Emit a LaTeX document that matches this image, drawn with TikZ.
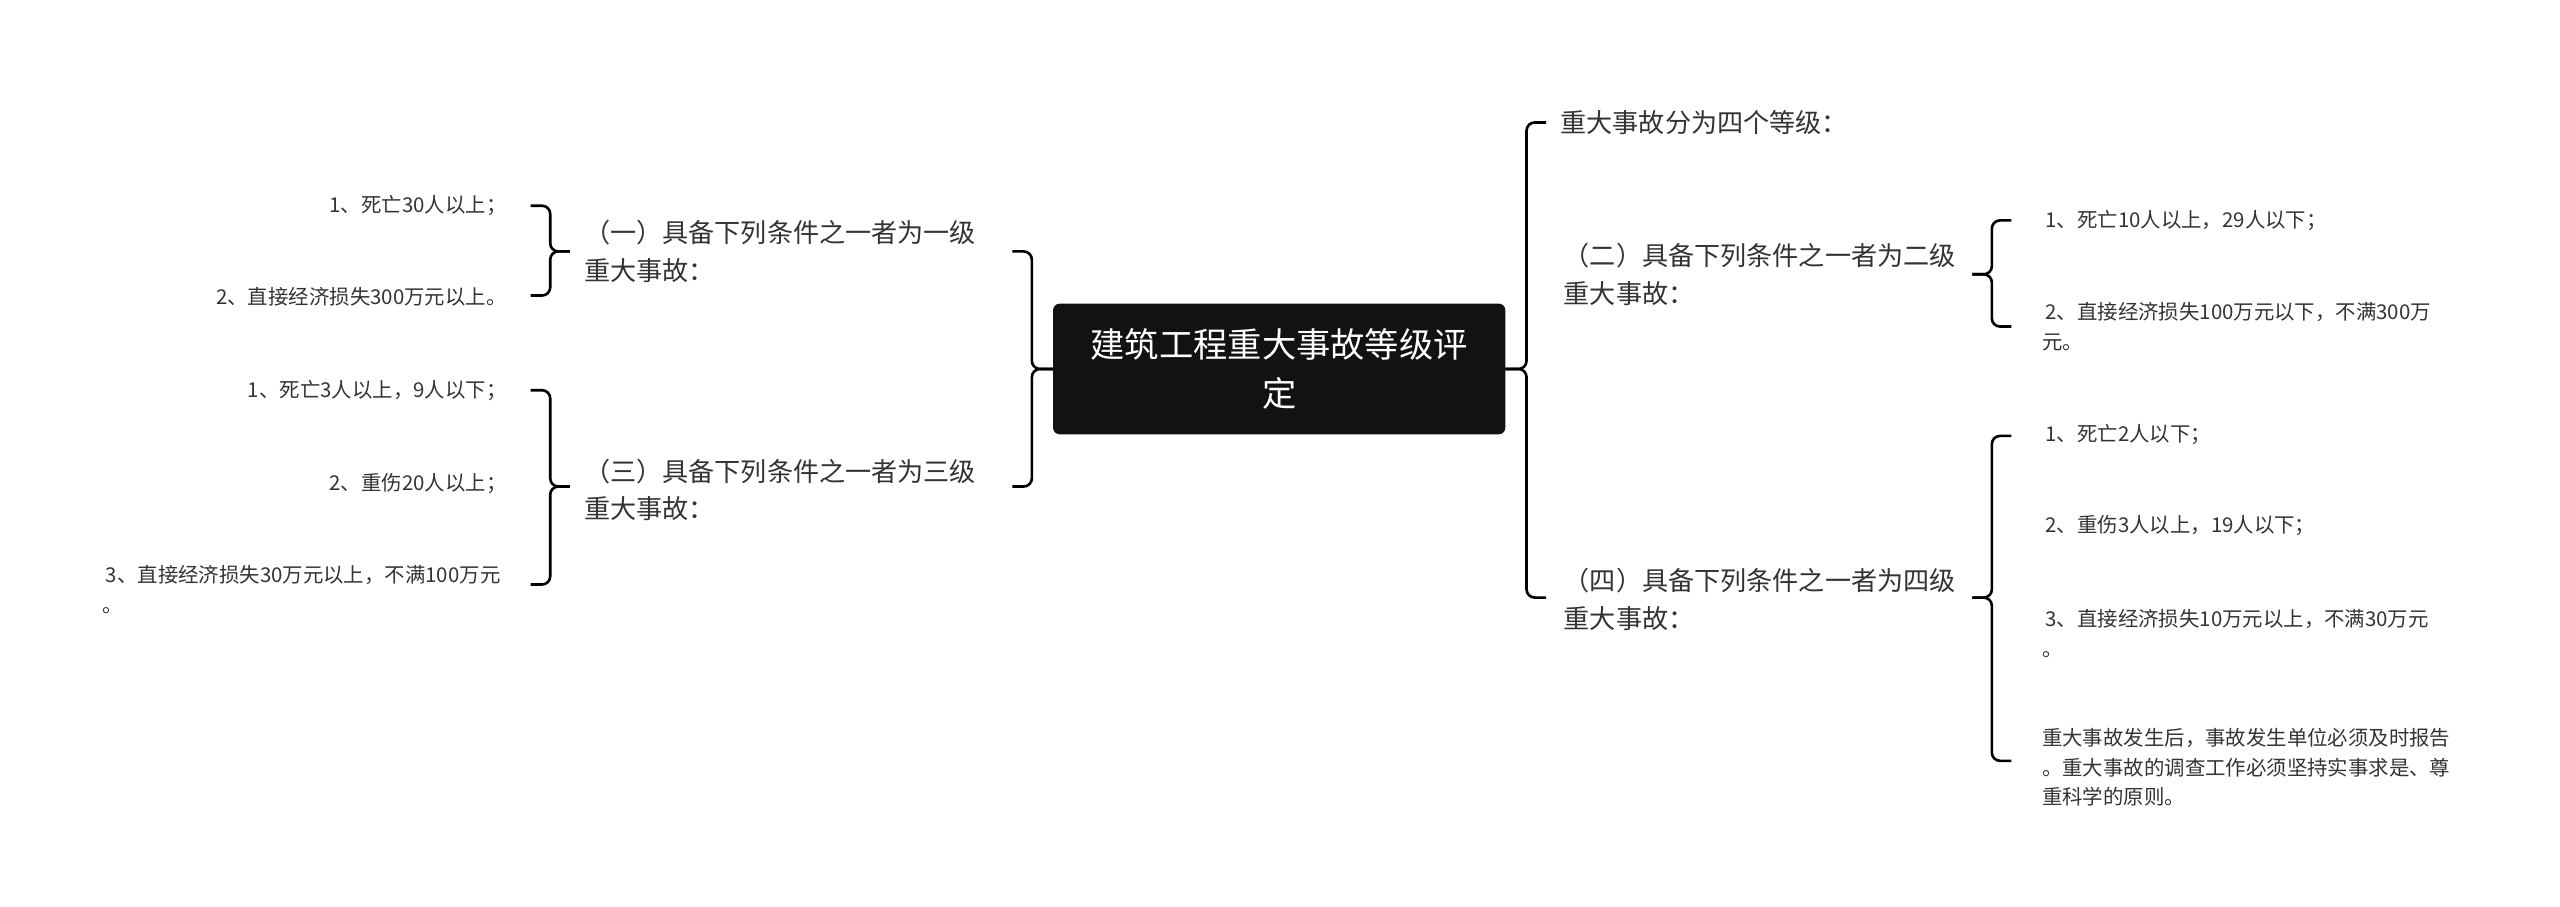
\documentclass[tikz,border=0pt]{standalone}
\usepackage{fontspec}
\setmainfont{Noto Sans CJK SC}
\definecolor{tx}{HTML}{333333}
\newcommand\brc[5]{% armx, bx, tipx, top, bottom ; mid given by #6? use mid from tip
}
\newcommand\mybrace[6]{% armx bx tipx top mid bottom
\draw[rounded corners=5] (#1,#4) -- (#2,#4) -- (#2,#5) -- (#3,#5);
\draw[rounded corners=5] (#1,#6) -- (#2,#6) -- (#2,#5) -- (#3,#5);}
\begin{document}
\begin{tikzpicture}[x=1pt,y=-1pt,line width=1.6pt,
  br/.style={font=\fontsize{16}{23}\selectfont,text=tx,inner sep=0,align=left},
  lf/.style={font=\fontsize{12.5}{18}\selectfont,text=tx,inner sep=0,align=left}]
\useasboundingbox (0,0) rectangle (1568,555);
\node[fill=black!93,rounded corners=4,minimum width=277,minimum height=80,text=white,align=center,font=\fontsize{21}{30}\selectfont] (c) at (783.5,226) {建筑工程重大事故等级评\\定};
% left
\node[br,anchor=west] (a1) at (357,154) {（一）具备下列条件之一者为一级\\重大事故：};
\node[br,anchor=west] (a3) at (357,300) {（三）具备下列条件之一者为三级\\重大事故：};
\mybrace{620}{632}{645}{154}{226}{298}
\node[lf,anchor=east] (l1) at (311,126) {1、死亡30人以上；};
\node[lf,anchor=east] (l2) at (311,182) {2、直接经济损失300万元以上。};
\mybrace{325}{337}{349}{126}{154}{181}
\node[lf,anchor=east] (l3) at (311,239) {1、死亡3人以上，9人以下；};
\node[lf,anchor=east] (l4) at (311,296) {2、重伤20人以上；};
\node[lf,anchor=west] (l5) at (62,361) {\,3、直接经济损失30万元以上，不满100万元\\。};
\mybrace{325}{337}{349}{239}{298}{358}
% right
\node[br,anchor=west] (b0) at (955,75) {重大事故分为四个等级：};
\node[br,anchor=west] (b2) at (957,168) {（二）具备下列条件之一者为二级\\重大事故：};
\node[br,anchor=west] (b4) at (957,367) {（四）具备下列条件之一者为四级\\重大事故：};
\mybrace{947}{935}{922}{75}{226}{366}
\node[lf,anchor=west] (r1) at (1250,135) {\,1、死亡10人以上，29人以下；};
\node[lf,anchor=west] (r2) at (1250,200) {\,2、直接经济损失100万元以下，不满300万\\元。};
\mybrace{1232}{1220}{1208}{135}{168}{200}
\node[lf,anchor=west] (r3) at (1250,266) {\,1、死亡2人以下；};
\node[lf,anchor=west] (r4) at (1250,322) {\,2、重伤3人以上，19人以下；};
\node[lf,anchor=west] (r5) at (1250,388) {\,3、直接经济损失10万元以上，不满30万元\\。};
\node[lf,anchor=west] (r6) at (1250,470) {重大事故发生后，事故发生单位必须及时报告\\。重大事故的调查工作必须坚持实事求是、尊\\重科学的原则。};
\mybrace{1232}{1220}{1208}{267}{366}{466}
\end{tikzpicture}
\end{document}
